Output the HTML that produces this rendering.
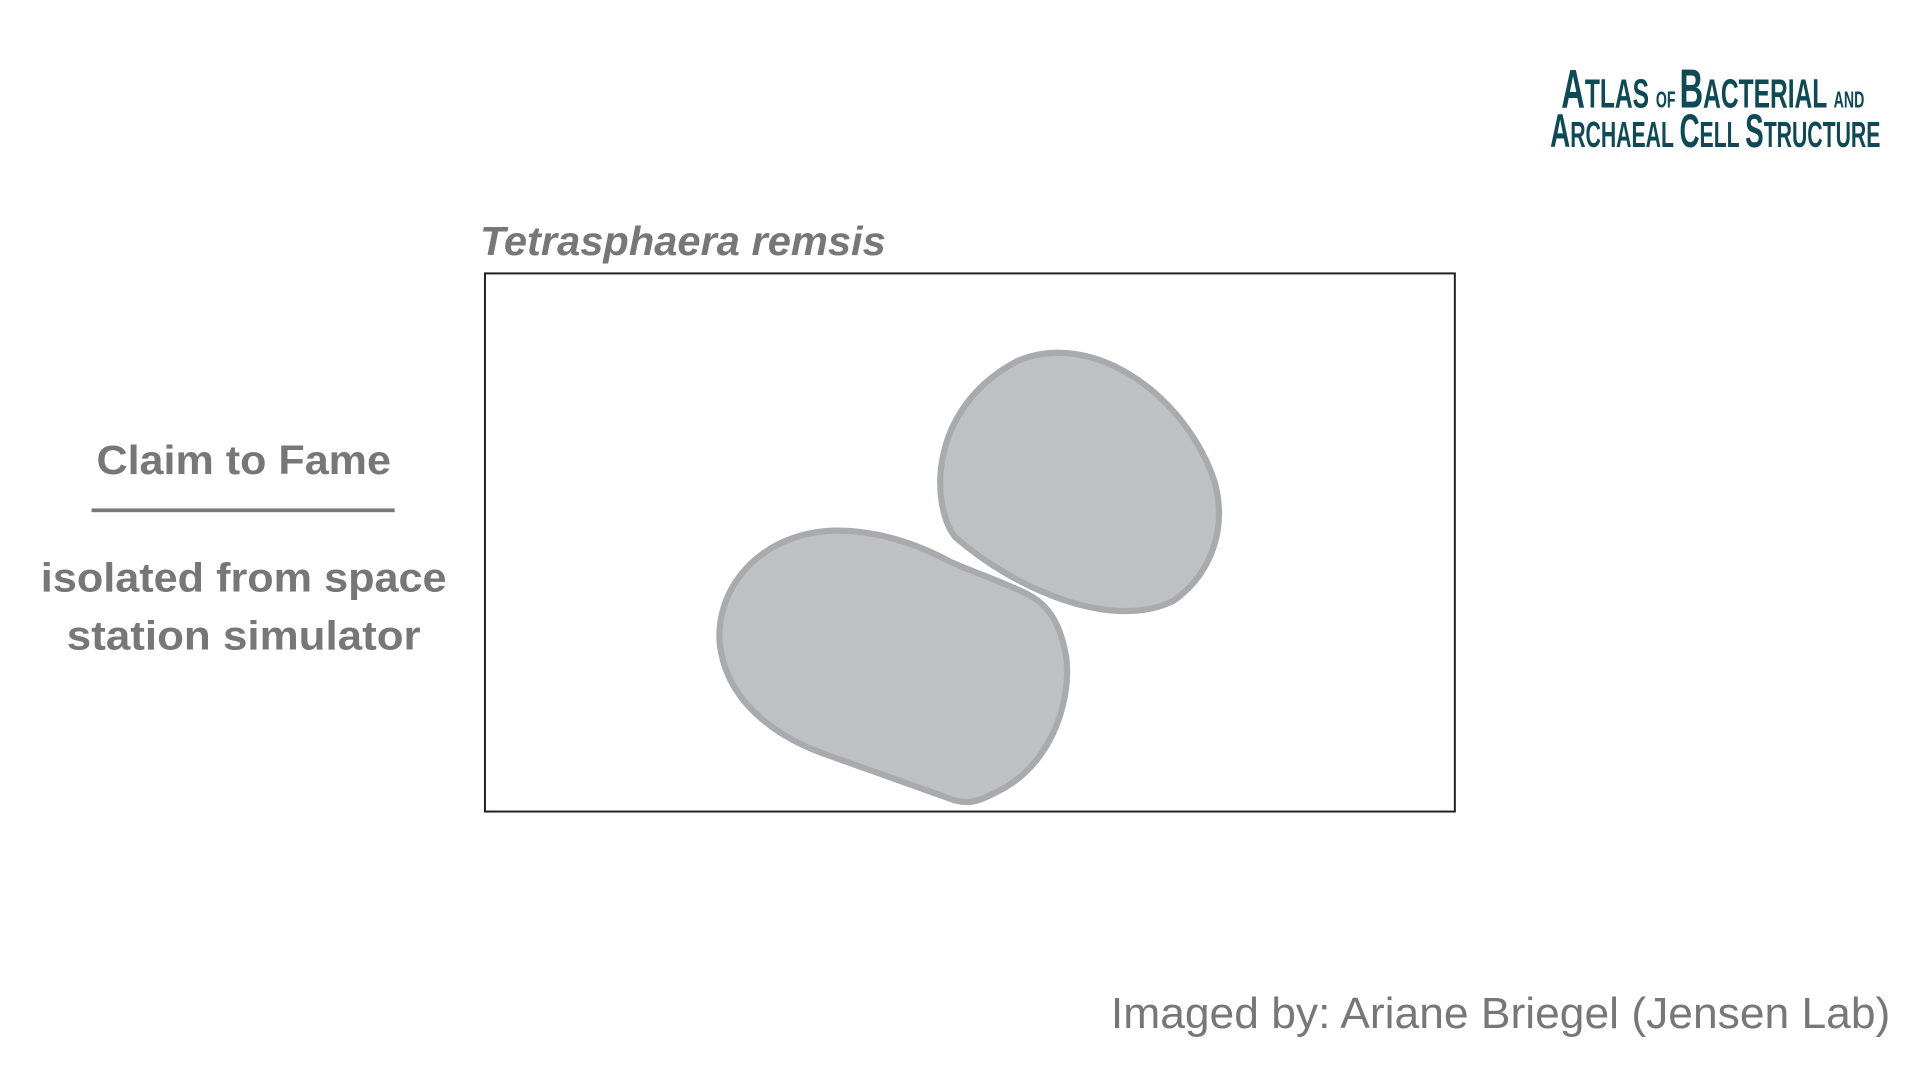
<!DOCTYPE html>
<html><head><meta charset="utf-8"><style>
html,body{margin:0;padding:0;background:#fff;}
svg{display:block;}
text{font-family:"Liberation Sans",sans-serif;}
</style></head><body>
<svg width="1920" height="1080" viewBox="0 0 1552 873" xmlns="http://www.w3.org/2000/svg">
<rect width="1552" height="873" fill="#fff"/>
<g fill="#0d4a55" font-weight="bold">
  <text x="1262" y="87" font-size="44" textLength="245" lengthAdjust="spacingAndGlyphs">A<tspan font-size="33">TLAS </tspan><tspan font-size="19">OF </tspan>B<tspan font-size="33">ACTERIAL </tspan><tspan font-size="19">AND</tspan></text>
  <text x="1253" y="119" font-size="38" textLength="267" lengthAdjust="spacingAndGlyphs">A<tspan font-size="29">RCHAEAL </tspan>C<tspan font-size="29">ELL </tspan>S<tspan font-size="29">TRUCTURE</tspan></text>
</g>
<text x="388" y="206" font-size="33" font-style="italic" font-weight="bold" fill="#77777a" textLength="328" lengthAdjust="spacingAndGlyphs">Tetrasphaera remsis</text>
<rect x="392" y="221" width="784" height="435" fill="none" stroke="#231f20" stroke-width="1.6"/>
<g fill="#bfc0c3" stroke="#a9aaad" stroke-width="5" stroke-linejoin="round">
  <path d="M772,434 C752,408 750,330 822,292 C885,265 960,322 982,390 C993,432 975,468 948,486 C898,510 820,476 772,434 Z"/>
  <path d="M768,454 C738,438 705,428 672,429 C612,432 577,478 582,522 C588,568 628,596 668,610 L772,647 C786,651 796,645 806,640 C848,620 866,570 862,532 C858,508 850,490 830,480 C810,470 788,463 768,454 Z"/>
</g>
<text x="197" y="383" font-size="33" font-weight="bold" fill="#77777a" text-anchor="middle" textLength="238" lengthAdjust="spacingAndGlyphs">Claim to Fame</text>
<rect x="74" y="411" width="245" height="3" fill="#77777a"/>
<text x="197" y="478" font-size="33" font-weight="bold" fill="#77777a" text-anchor="middle" textLength="328" lengthAdjust="spacingAndGlyphs">isolated from space</text>
<text x="197" y="525" font-size="33" font-weight="bold" fill="#77777a" text-anchor="middle" textLength="286" lengthAdjust="spacingAndGlyphs">station simulator</text>
<text x="1528" y="831" font-size="35" fill="#77777a" text-anchor="end" textLength="630" lengthAdjust="spacingAndGlyphs">Imaged by: Ariane Briegel (Jensen Lab)</text>
</svg>
</body></html>
